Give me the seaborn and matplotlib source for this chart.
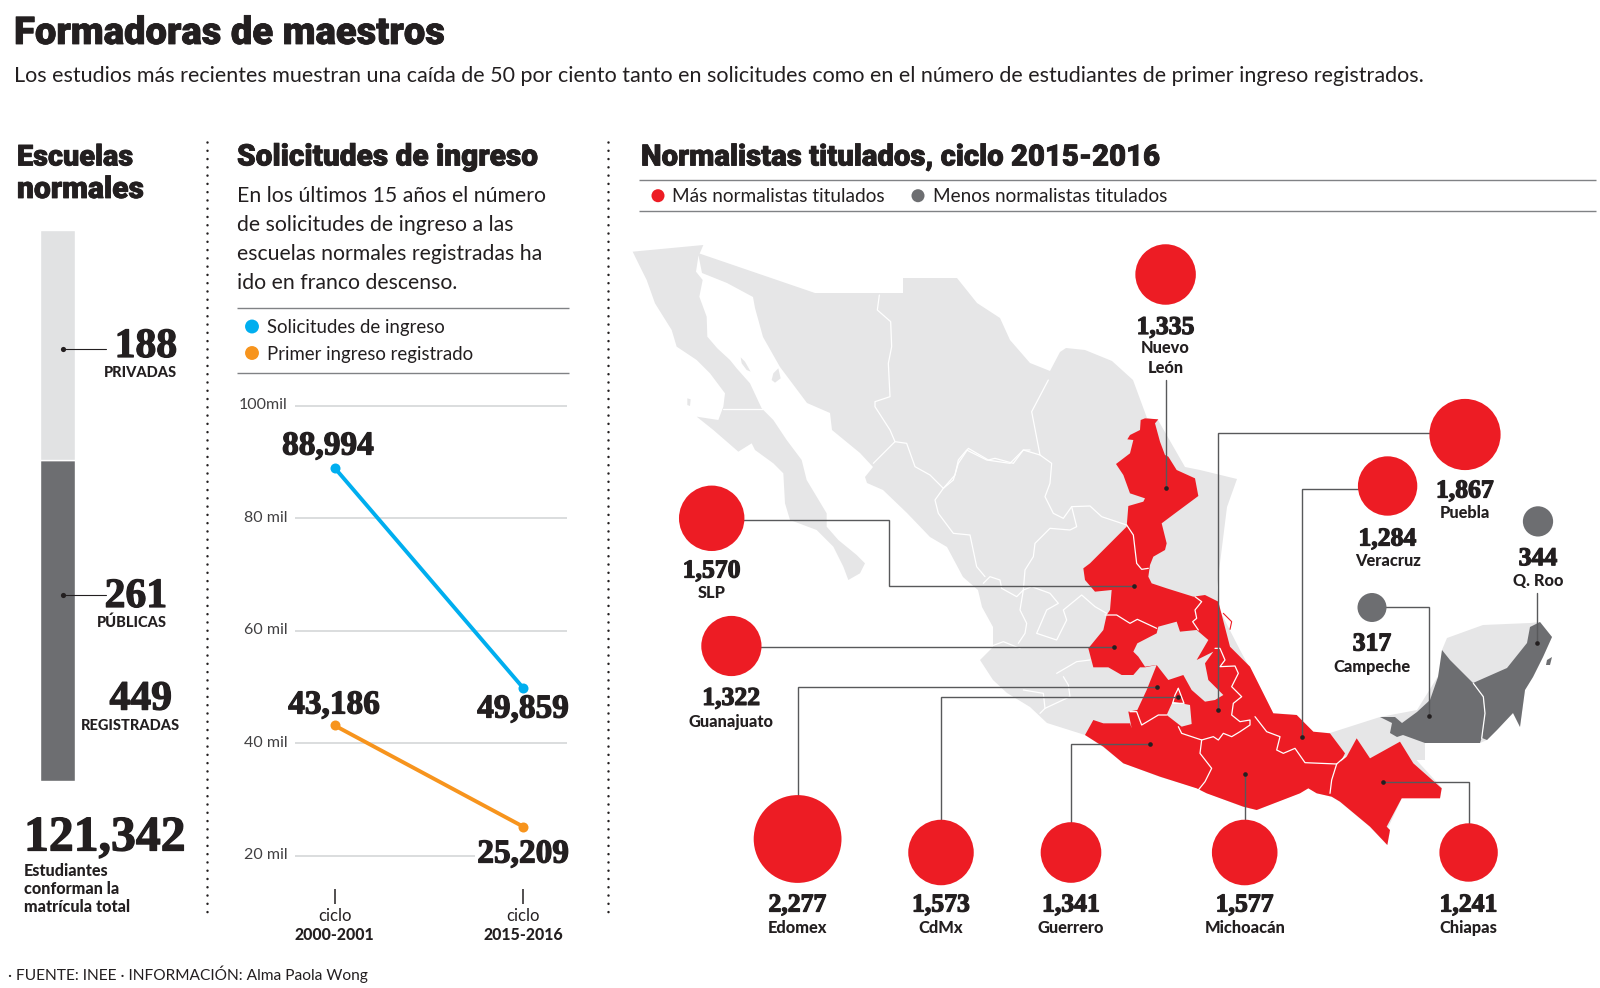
import matplotlib
matplotlib.use("Agg")
import matplotlib.patheffects as pe
import matplotlib.pyplot as plt
import matplotlib.transforms as mtrans
import numpy as np
import pandas as pd
import seaborn as sns

# data
PRIVADAS = 188
PUBLICAS = 261
REGISTRADAS = 449
MATRICULA = "121,342"

CICLOS = ["2000-2001", "2015-2016"]
SOLICITUDES = [88994, 49859]
PRIMER_INGRESO = [43186, 25209]
Y_TICKS = [20000, 40000, 60000, 80000, 100000]
Y_LABELS = ["20 mil", "40 mil", "60 mil", "80 mil", "100mil"]

ESTADOS = ["Nuevo\nLeón", "Puebla", "Veracruz", "Q. Roo", "Campeche", "SLP", "Guanajuato",
           "Edomex", "CdMx", "Guerrero", "Michoacán", "Chiapas"]
TITULADOS = [1335, 1867, 1284, 344, 317, 1570, 1322, 2277, 1573, 1341, 1577, 1241]
GRUPO = ["mas", "mas", "mas", "menos", "menos", "mas", "mas", "mas", "mas", "mas", "mas", "mas"]

# layout of the bubbles in reference pixels
BUBBLE_X = [1165.6, 1465, 1387.6, 1538, 1372, 711.7, 731.4, 797.6, 941, 1071, 1244.7, 1468.6]
BUBBLE_Y = [274.5, 434.5, 486, 521.4, 607.5, 518.3, 646, 839, 852.5, 852.5, 852.5, 852.5]
NUM_Y = [327.5, 491, 539, 558.7, 644, 571, 698.4, 905, 905, 905, 905, 905]
NAME_Y = [358, 513, 561, 581, 667, 593, 721.6, 927.5, 927.5, 927.5, 927.5, 927.5]

RED = "#ed1c24"
DARK = "#6d6e71"
LIGHT = "#e6e6e7"
INK = "#231f20"
BLUE = "#00aeef"
ORANGE = "#f7941d"
LEADER = "#58595b"

SANS = "Lato"
HEAD = "Roboto"
FAT = "Liberation Serif"

W, H = 1600, 988


def crop(x0, y0, pts):
    # points traced on a 3x zoom of the reference
    return [(x0 + x / 3, y0 + y / 3) for x, y in pts]


def px_axes(left, top, right, bottom):
    return fig.add_axes([left / W, 1 - bottom / H, (right - left) / W, (bottom - top) / H])


BAJA = crop(630, 240, [
    (8, 35), (220, 15), (205, 50), (198, 95), (218, 120), (208, 170), (230, 230), (232, 290), (262, 325),
    (300, 360), (320, 385), (360, 430), (395, 505), (430, 540), (470, 600), (515, 660), (530, 720),
    (560, 770), (590, 820), (590, 860), (625, 900), (680, 945), (705, 970), (690, 1000), (655, 1020),
    (640, 980), (610, 920), (560, 870), (480, 840), (465, 790), (460, 700), (430, 670), (375, 630),
    (365, 610), (325, 635), (250, 570), (200, 530), (265, 540), (280, 500), (285, 460), (240, 400),
    (200, 360), (140, 320), (125, 270), (75, 190), (50, 120), (30, 80)])

ISLANDS = [
    crop(630, 240, [(430, 400), (445, 385), (452, 415), (435, 428), (425, 420)]),
    crop(630, 240, [(332, 352), (345, 365), (362, 395), (350, 390), (335, 370)]),
    crop(630, 240, [(172, 475), (182, 478), (180, 498), (172, 495)]),
]

MAINLAND = [
    (698, 253), (815, 293), (903, 293), (903, 278), (957, 278), (977, 303), (1000, 318), (1010, 340),
    (1030, 363), (1050, 371), (1060, 352), (1066, 348), (1085, 350), (1112, 361), (1133, 380), (1147, 418),
    (1158, 420), (1185, 467), (1200, 470), (1237, 479), (1227, 507), (1217, 587), (1218, 607), (1240, 650),
    (1260, 687), (1273, 713), (1297, 715), (1313, 732), (1330, 733), (1380, 717), (1417, 710), (1440, 673),
    (1442, 650), (1447, 638), (1483, 625), (1530, 623), (1540, 622), (1552, 637), (1543, 657), (1533, 677),
    (1525, 690), (1520, 727), (1513, 713), (1497, 730), (1487, 740), (1480, 743), (1425, 743), (1425, 760),
    (1413, 760), (1400, 742), (1442, 788), (1440, 798), (1402, 798), (1387, 830), (1390, 832), (1387, 845),
    (1370, 827), (1340, 802), (1332, 797), (1317, 793), (1308, 788), (1300, 793), (1257, 810), (1243, 807),
    (1207, 793), (1197, 788), (1160, 777), (1123, 763), (1103, 747), (1085, 735), (1047, 723), (1030, 707),
    (1007, 693), (993, 680), (980, 660), (993, 647), (993, 627), (982, 607), (978, 590), (963, 577),
    (947, 547), (930, 537), (907, 513), (883, 490), (867, 483), (865, 477), (873, 467), (860, 453),
    (832, 430), (830, 413), (807, 403), (780, 367), (763, 337), (755, 308), (753, 297), (727, 283), (702, 273)]

RED_ZONE = (
    crop(850, 380, [
        (885, 115), (925, 118), (915, 130), (930, 185), (945, 225), (955, 230), (980, 270), (1035, 295),
        (1045, 348), (975, 400), (935, 430), (950, 490), (945, 510), (910, 530), (900, 555), (895, 590),
        (905, 610), (950, 625), (1030, 650), (1065, 645), (1105, 665), (1140, 800), (1200, 860)])
    + crop(1050, 580, [
        (630, 320), (670, 400), (740, 405), (790, 455), (840, 460), (885, 520), (872, 545), (890, 530),
        (920, 475), (960, 535), (1050, 485), (1090, 550), (1175, 625), (1170, 655), (1055, 655), (1010, 740),
        (1020, 750), (1012, 795), (960, 740), (870, 665), (845, 650), (800, 640), (775, 625), (750, 640),
        (620, 690), (580, 680), (470, 640), (440, 625), (330, 590), (220, 550), (160, 500), (105, 465),
        (130, 420), (160, 430), (240, 430), (245, 445), (235, 395), (262, 390), (290, 330), (320, 255),
        (285, 262), (270, 262), (250, 285), (215, 285), (175, 262), (130, 262), (115, 205), (160, 150),
        (170, 105)])
    + crop(850, 380, [
        (780, 690), (785, 630), (735, 635), (705, 600), (700, 565), (720, 550), (830, 440), (835, 378),
        (880, 365), (885, 355), (840, 340), (820, 285), (798, 252), (840, 220), (850, 180), (832, 178),
        (840, 165), (870, 150), (872, 120)]))

HOLES = [
    crop(1050, 580, [
        (250, 215), (262, 190), (320, 160), (325, 140), (380, 125), (390, 155), (440, 150), (475, 180),
        (440, 240), (490, 215), (465, 250), (475, 300), (520, 345), (495, 360), (465, 365), (425, 330),
        (400, 285), (355, 300), (320, 255), (285, 260), (265, 230)]),
    crop(1050, 580, [(368, 365), (420, 375), (425, 432), (395, 440), (350, 405)]),
]

CAMPECHE_Q = [
    [(1442, 650), (1450, 660), (1473, 683), (1483, 697), (1485, 713), (1482, 737), (1480, 743), (1425, 743),
     (1403, 735), (1397, 737), (1390, 733), (1392, 723), (1380, 717), (1395, 717), (1402, 723), (1417, 712),
     (1430, 700), (1438, 677)],
    [(1530, 627), (1540, 622), (1552, 637), (1543, 657), (1533, 677), (1525, 690), (1520, 727), (1513, 713),
     (1497, 730), (1487, 740), (1482, 738), (1485, 713), (1483, 697), (1473, 683), (1507, 668), (1527, 643)],
    [(1547, 660), (1552, 657), (1550, 665), (1546, 665)],
]

BORDERS = [
    crop(1050, 580, p) for p in [
        [(165, 105), (200, 105), (240, 130), (262, 118), (320, 145)],
        [(435, 50), (455, 65), (435, 90), (440, 115), (428, 125), (445, 150)],
        [(495, 205), (510, 205), (525, 240), (510, 260), (555, 258), (565, 280), (545, 320), (575, 350),
         (550, 370), (545, 405), (570, 425), (600, 420), (600, 435), (570, 455), (545, 470), (520, 460),
         (505, 480), (490, 470), (455, 480), (395, 460), (385, 440)],
        [(455, 480), (450, 520), (485, 565), (465, 605), (445, 630)],
        [(615, 410), (650, 455), (690, 470), (680, 510), (700, 520), (735, 505), (765, 548), (860, 552)],
        [(885, 530), (860, 552), (845, 600), (840, 640)],
        [(240, 395), (260, 395), (275, 435), (325, 405), (350, 405)],
        [(385, 325), (402, 370), (368, 370), (375, 345), (385, 325)],
        [(1270, 310), (1300, 350), (1305, 400), (1295, 475)],
    ]
] + [
    crop(850, 380, p) for p in [
        [(830, 435), (850, 465), (860, 550), (875, 568), (895, 565)],
        [(595, 0), (545, 95), (570, 225), (520, 210), (490, 250), (435, 235), (415, 240), (355, 205),
         (325, 250), (310, 300), (280, 325)],
        [(570, 225), (605, 250), (600, 310), (585, 350), (610, 400), (640, 415), (665, 380), (720, 378),
         (755, 410), (830, 435)],
        [(665, 380), (680, 440), (660, 450), (600, 445), (555, 490), (550, 530), (525, 570), (520, 630),
         (510, 690), (530, 730), (525, 760), (505, 790)],
        [(400, 610), (420, 590), (450, 600), (455, 625), (500, 650), (520, 630), (545, 620), (600, 640),
         (625, 670), (590, 690), (560, 760), (620, 780), (650, 720), (640, 690), (695, 645), (735, 680), (770, 700)],
        [(420, 800), (460, 785), (510, 805)],
        [(620, 880), (680, 845), (720, 840)],
        [(640, 890), (655, 915), (660, 950), (585, 985), (570, 1000)],
        [(520, 930), (580, 940), (585, 985)],
    ]
] + [
    crop(630, 240, p) for p in [
        [(748, 165), (742, 210), (782, 245), (785, 320), (775, 370), (780, 470), (735, 485), (735, 500),
         (780, 570), (795, 605), (730, 670)],
        [(795, 605), (830, 610), (855, 680), (900, 705), (940, 745), (975, 705), (985, 660), (1010, 630),
         (1070, 660), (1140, 670), (1180, 630), (1200, 630)],
        [(940, 745), (915, 780), (925, 820), (970, 880), (1020, 885), (1040, 980), (1065, 1010)],
        [(280, 507), (400, 507)],
    ]
]

# (path of the leader), the last point carries the dot
LEADERS = [
    [(1166, 380), (1166, 488.3)],
    [(1465, 433.3), (1218.3, 433.3), (1218.3, 710)],
    [(1387, 488.6), (1301.7, 488.6), (1301.7, 736.7)],
    [(1537.3, 592.5), (1537.3, 642.7)],
    [(1372, 607), (1429.3, 607), (1429.3, 716)],
    [(712, 520), (889.3, 520), (889.3, 586), (1134.3, 586)],
    [(732, 647), (1114.3, 647)],
    [(797.6, 839), (797.6, 687), (1157, 687)],
    [(941, 852), (941, 696.7), (1177.7, 696.7)],
    [(1071, 852), (1071, 744), (1150, 744)],
    [(1245, 852), (1245, 774)],
    [(1469, 852), (1469, 782.3), (1382.7, 782.3)],
]

sns.set_theme(style="white")
plt.rcParams["font.family"] = [SANS, "DejaVu Sans"]
plt.rcParams["text.color"] = INK

fig = plt.figure(figsize=(W / 100, H / 100), dpi=100, facecolor="white")

canvas = fig.add_axes([0, 0, 1, 1], zorder=1)
canvas.set_xlim(0, W)
canvas.set_ylim(H, 0)
canvas.axis("off")


def txt(x, y, s, size, weight="normal", family=SANS, ha="left", va="center", **kw):
    return canvas.text(x, y, s, fontsize=size, fontweight=weight, family=family, ha=ha, va=va,
                       color=kw.pop("color", INK), **kw)


def head(x, y, s, size):
    return txt(x, y, s, size, 900, HEAD, path_effects=[pe.withStroke(linewidth=0.6, foreground=INK)])


def fat(x, y, s, size, ha="center"):
    return txt(x, y, s, size, "bold", FAT, ha=ha,
               path_effects=[pe.withStroke(linewidth=0.9, foreground=INK)])


def rule(x0, x1, y, color="#808285", lw=1.0):
    canvas.plot([x0, x1], [y, y], color=color, lw=lw, solid_capstyle="butt")


# header
head(14, 33.5, "Formadoras de maestros", 27.5)
txt(14, 75.5, "Los estudios más recientes muestran una caída de 50 por ciento tanto en solicitudes "
              "como en el número de estudiantes de primer ingreso registrados.", 15.5)
head(17, 157.5, "Escuelas", 20.8)
head(17, 190, "normales", 21.6)
head(237, 157.5, "Solicitudes de ingreso", 21.5)
head(641, 157.5, "Normalistas titulados, ciclo 2015-2016", 21.1)

for x in (207, 607.7):
    canvas.plot([x, x], [142, 918], color=INK, lw=1.8, linestyle=(0, (0.01, 3.3)), dash_capstyle="round")

# stacked bar
bar_ax = px_axes(39.5, 229.6, 74.7, 780.6)
sns.barplot(x=["total"], y=[PUBLICAS], color=DARK, saturation=1, width=1, ax=bar_ax)
sns.barplot(x=["total"], y=[PRIVADAS], bottom=[PUBLICAS], color="#e1e2e3", saturation=1, width=1, ax=bar_ax)
bar_ax.set_ylim(0, REGISTRADAS)
bar_ax.axis("off")

canvas.plot([63, 106], [348.7, 348.7], color=INK, lw=0.8, zorder=5)
canvas.plot([63, 106], [594.5, 594.5], color=INK, lw=0.8, zorder=5)
canvas.scatter([63, 63], [348.7, 594.5], s=14, color=INK, zorder=6, linewidths=0)
fat(177, 347, str(PRIVADAS), 30, ha="right")
txt(177, 373, "PRIVADAS", 10.5, 900, ha="right")
fat(167, 597, str(PUBLICAS), 30, ha="right")
txt(167, 623, "PÚBLICAS", 10.5, 900, ha="right")
fat(172, 699.6, str(REGISTRADAS), 30, ha="right")
txt(180, 726, "REGISTRADAS", 10.5, 900, ha="right")
fat(24, 838.5, MATRICULA, 35.8, ha="left")
for y, s in zip((871, 889, 907), ("Estudiantes", "conforman la", "matrícula total")):
    txt(24, y, s, 11.6, 900)

# text block and legend of the line chart
for y, s in zip((195.5, 224.8, 254.2, 283),
                ("En los últimos 15 años el número", "de solicitudes de ingreso a las",
                 "escuelas normales registradas ha", "ido en franco descenso.")):
    txt(237, y, s, 15.3)
rule(237, 569.4, 308)
rule(237, 569.4, 373)
canvas.scatter([252, 252], [326.5, 353], s=100, color=[BLUE, ORANGE], linewidths=0)
txt(267, 327.5, "Solicitudes de ingreso", 13.4)
txt(267, 354.5, "Primer ingreso registrado", 13.4)

# line chart
PX_PER_UNIT = 112.55 / 20000
line_ax = px_axes(294.6, 400, 567.4, 888.6)
lines = pd.DataFrame({
    "ciclo": CICLOS * 2,
    "valor": SOLICITUDES + PRIMER_INGRESO,
    "serie": ["Solicitudes de ingreso"] * 2 + ["Primer ingreso registrado"] * 2,
})
sns.lineplot(data=lines, x="ciclo", y="valor", hue="serie", sort=False, legend=False,
             palette={"Solicitudes de ingreso": BLUE, "Primer ingreso registrado": ORANGE},
             lw=2.8, marker="o", markersize=7.2, markeredgewidth=0, ax=line_ax, zorder=3)
line_ax.set_xlim(-40 / 189, 1 + 44.4 / 189)
line_ax.set_ylim(20000 - 32.7 / PX_PER_UNIT, 100000 + 5.7 / PX_PER_UNIT)
line_ax.set_yticks(Y_TICKS, Y_LABELS)
line_ax.set_xticks([0, 1], ["ciclo", "ciclo"])
line_ax.set_xlabel("")
line_ax.set_ylabel("")
line_ax.patch.set_alpha(0)
line_ax.grid(True, axis="y", color="#d1d3d4", lw=1.1)
line_ax.grid(False, axis="x")
line_ax.tick_params(axis="y", length=0, pad=4.8, labelsize=11.5, labelcolor="#414042")
line_ax.tick_params(axis="x", length=11, width=1.1, color=INK, pad=3, labelsize=12, labelcolor=INK, bottom=True)
# the value labels sit a little above their grid lines
lift = mtrans.ScaledTranslation(0, 2 / 100, fig.dpi_scale_trans)
for label in line_ax.get_yticklabels():
    label.set_transform(label.get_transform() + lift)
sns.despine(ax=line_ax, left=True, bottom=True)

fat(328, 446, "88,994", 24)
fat(334, 705, "43,186", 24)
fat(523, 709, "49,859", 24)
fat(523, 854, "25,209", 24).set_bbox(dict(facecolor="white", edgecolor="none", pad=2))
for x, s in zip((334, 523), CICLOS):
    txt(x, 935, s, 11.4, 900, ha="center")

# map
for poly, color in [(BAJA, LIGHT), (MAINLAND, LIGHT), (RED_ZONE, RED)]:
    canvas.fill(*zip(*poly), color=color, lw=0, zorder=1)
for poly in ISLANDS:
    canvas.fill(*zip(*poly), color=LIGHT, lw=0, zorder=1)
for poly in HOLES:
    canvas.fill(*zip(*poly), color=LIGHT, lw=0, zorder=1.1)
for poly in CAMPECHE_Q:
    canvas.fill(*zip(*poly), color=DARK, lw=0, zorder=1.1)
for line in BORDERS:
    canvas.plot(*zip(*line), color="white", lw=0.9, zorder=1.2, solid_joinstyle="round")
canvas.plot(*zip(*crop(1050, 580, [(520, 100), (545, 125), (540, 148)])), color=RED, lw=0.8, zorder=1.2)

for path in LEADERS:
    canvas.plot(*zip(*path), color=LEADER, lw=1.0, zorder=2, solid_joinstyle="miter")
    canvas.scatter(*path[-1], s=11, color=INK, linewidths=0, zorder=2.1)

# bubbles: radius in px follows the value, as measured on the reference
bubbles = pd.DataFrame({"estado": ESTADOS, "titulados": TITULADOS, "grupo": GRUPO,
                        "x": BUBBLE_X, "y": BUBBLE_Y})
radius = np.interp(np.sqrt(TITULADOS), np.sqrt([317, 1241, 1867, 2277]), [14.5, 29.2, 35.6, 43.9])
areas = dict(zip(TITULADOS, (2 * radius * 0.72) ** 2))
sns.scatterplot(data=bubbles, x="x", y="y", hue="grupo", palette={"mas": RED, "menos": DARK},
                size="titulados", sizes=areas, linewidth=0, legend=False, ax=canvas, zorder=3)
canvas.set_xlim(0, W)
canvas.set_ylim(H, 0)
canvas.axis("off")

for x, ny, ty, value, name in zip(BUBBLE_X, NUM_Y, NAME_Y, TITULADOS, ESTADOS):
    fat(x, ny, f"{value:,}", 18.5)
    txt(x, ty, name, 11.8, 900, ha="center", linespacing=1.25)

# map legend
rule(639, 1596, 180.3)
rule(639, 1596, 211)
canvas.scatter([658, 918], [195.7, 195.7], s=88, color=[RED, DARK], linewidths=0)
txt(672.5, 196.7, "Más normalistas titulados", 13.7)
txt(932.6, 196.7, "Menos normalistas titulados", 13.7)

txt(8, 974.4, "· FUENTE: INEE · INFORMACIÓN: Alma Paola Wong", 11.2)

fig.savefig("out.png", dpi=100, facecolor="white")
